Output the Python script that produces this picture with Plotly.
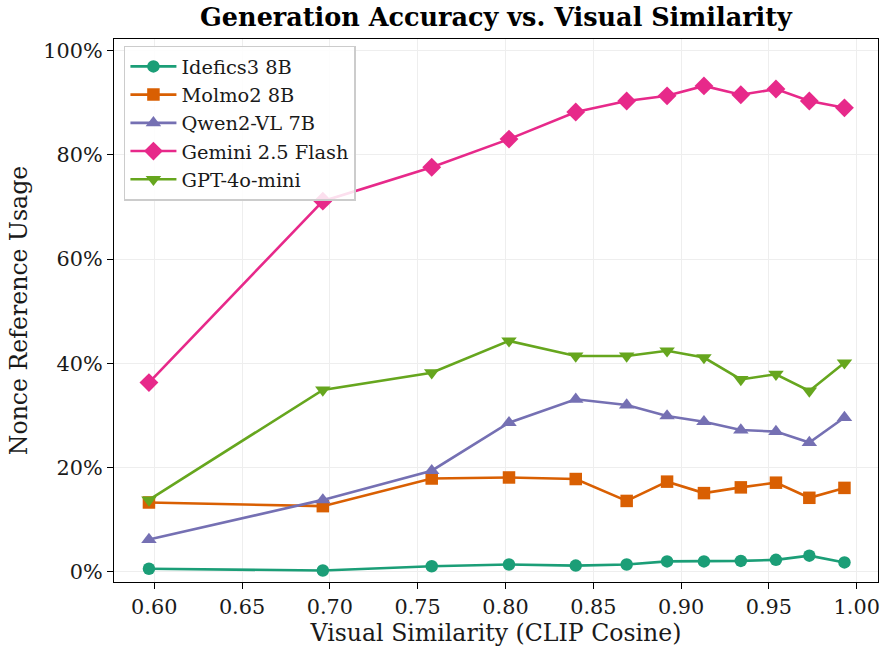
import plotly.graph_objects as go

similarity = [0.597, 0.696, 0.758, 0.802, 0.840, 0.869, 0.892, 0.913, 0.934, 0.954, 0.973, 0.993]

series_names = ["Idefics3 8B", "Molmo2 8B", "Qwen2-VL 7B", "Gemini 2.5 Flash", "GPT-4o-mini"]
idefics = [0.006, 0.0025, 0.0107, 0.014, 0.012, 0.014, 0.020, 0.020, 0.021, 0.023, 0.031, 0.018]
molmo = [0.133, 0.126, 0.179, 0.181, 0.178, 0.136, 0.173, 0.151, 0.162, 0.171, 0.142, 0.161]
qwen = [0.062, 0.138, 0.194, 0.286, 0.331, 0.320, 0.299, 0.288, 0.272, 0.269, 0.248, 0.296]
gemini = [0.363, 0.711, 0.776, 0.830, 0.882, 0.903, 0.913, 0.932, 0.915, 0.926, 0.903, 0.890]
gpt = [0.138, 0.349, 0.382, 0.443, 0.414, 0.414, 0.424, 0.411, 0.369, 0.379, 0.347, 0.401]

x_ticks = [0.60, 0.65, 0.70, 0.75, 0.80, 0.85, 0.90, 0.95, 1.00]
y_ticks = [0, 0.2, 0.4, 0.6, 0.8, 1.0]

values = [idefics, molmo, qwen, gemini, gpt]
colors = ["#1b9e77", "#d95f02", "#7570b3", "#e7298a", "#66a61e"]
symbols = ["circle", "square", "triangle-up", "diamond", "triangle-down"]
msizes = [12.5, 12.5, 13.5, 14.5, 13.5]

fig = go.Figure()
for name, ys, c, s, ms in zip(series_names, values, colors, symbols, msizes):
    fig.add_trace(go.Scatter(
        x=similarity, y=ys, name=name, mode="lines+markers",
        line=dict(color=c, width=2.6),
        marker=dict(symbol=s, size=ms, color=c, line=dict(width=0)),
    ))

font_family = "DejaVu Serif"
fig.update_layout(
    width=888, height=657,
    margin=dict(l=114, r=8, t=38.5, b=74.5),
    paper_bgcolor="white", plot_bgcolor="white",
    font=dict(family=font_family, size=20.8, color="#1a1a1a"),
    title=dict(text="<b>Generation Accuracy vs. Visual Similarity</b>",
               x=0.5, xanchor="center", xref="paper", y=0.974, yanchor="middle",
               font=dict(family=font_family, size=25.5, color="black")),
    legend=dict(x=0.013, y=0.9875, xanchor="left", yanchor="top",
                bgcolor="rgba(255,255,255,0.85)", bordercolor="#cccccc", borderwidth=1.5,
                font=dict(family=font_family, size=19.4, color="#1a1a1a"),
                tracegroupgap=0, itemwidth=46),
    xaxis=dict(range=[0.5771, 1.0121], tickvals=x_ticks,
               tickformat=".2f", showline=True, linecolor="black", linewidth=1.3, mirror=True,
               ticks="outside", ticklen=6, tickwidth=1.2, tickcolor="black",
               showgrid=True, gridcolor="#eeeeee", gridwidth=1, zeroline=False,
               title=dict(text="Visual Similarity (CLIP Cosine)", font=dict(size=23.6), standoff=6),
               tickfont=dict(size=20.8)),
    yaxis=dict(range=[-0.0195, 1.022], tickvals=y_ticks, tickformat=".0%",
               showline=True, linecolor="black", linewidth=1.3, mirror=True,
               ticks="outside", ticklen=6, tickwidth=1.2, tickcolor="black",
               showgrid=True, gridcolor="#eeeeee", gridwidth=1, zeroline=False,
               title=dict(text="Nonce Reference Usage", font=dict(size=23.6), standoff=8),
               tickfont=dict(size=20.8)),
)

fig.write_html("out.html")
